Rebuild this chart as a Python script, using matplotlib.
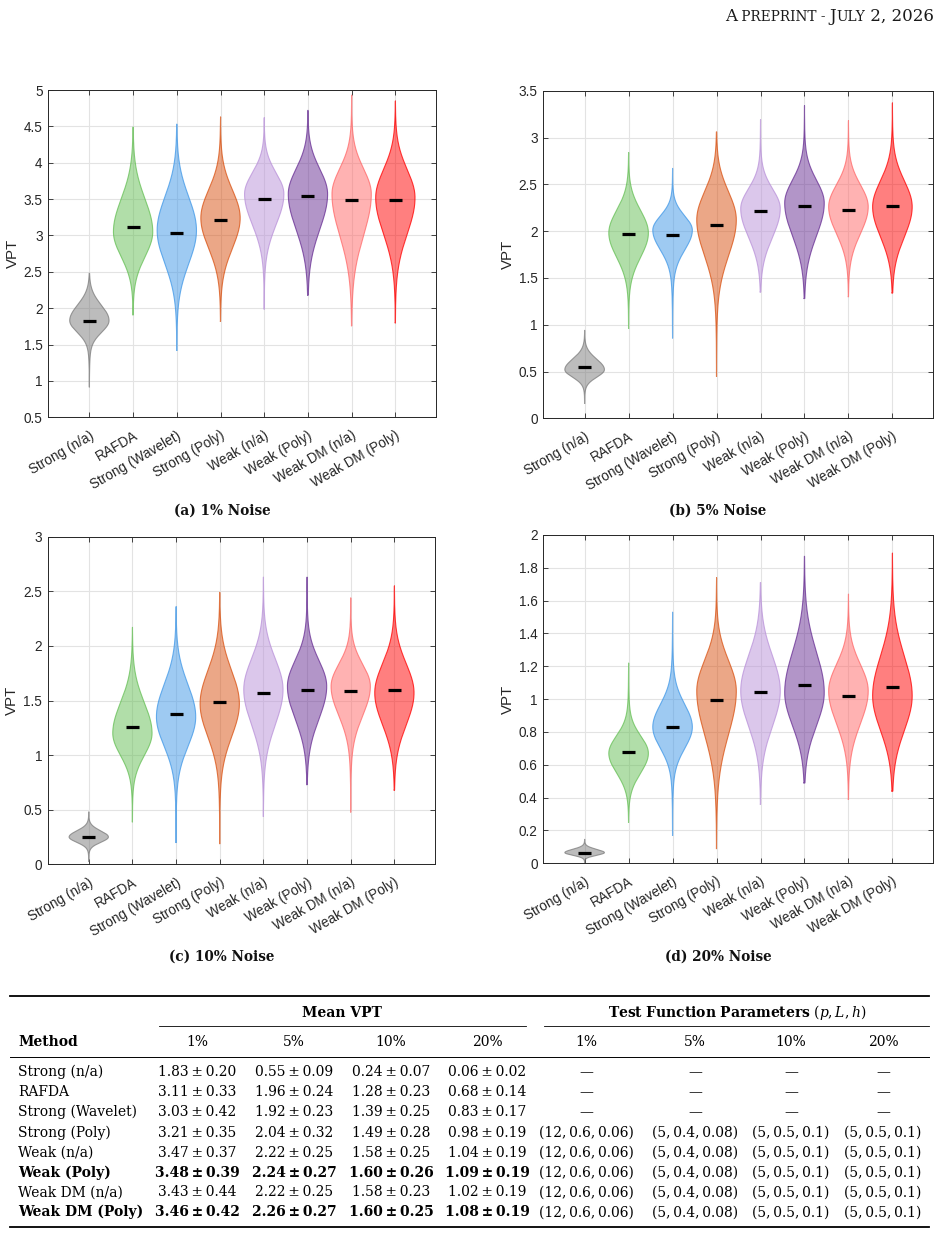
import numpy as np
import matplotlib
matplotlib.use("Agg")
import matplotlib.pyplot as plt
from matplotlib.lines import Line2D
from matplotlib.transforms import ScaledTranslation

W, H = 943, 1234

# ---------------- data ----------------
methods = ["Strong (n/a)", "RAFDA", "Strong (Wavelet)", "Strong (Poly)",
           "Weak (n/a)", "Weak (Poly)", "Weak DM (n/a)", "Weak DM (Poly)"]
noise_levels = ["1%", "5%", "10%", "20%"]
captions = ["(a) 1% Noise", "(b) 5% Noise", "(c) 10% Noise", "(d) 20% Noise"]

# violin summaries: marker value, widest point,
# upper / lower half-width levels, lowest and highest sample
center_a = [1.82, 3.12, 3.04, 3.21, 3.50, 3.54, 3.49, 3.49]
mode_a = [1.83, 3.05, 3.07, 3.24, 3.57, 3.57, 3.57, 3.52]
halfhi_a = [2.10, 3.62, 3.65, 3.72, 3.93, 4.00, 4.00, 4.00]
halflo_a = [1.63, 2.62, 2.50, 2.72, 3.05, 2.95, 2.85, 2.90]
min_a = [0.92, 1.91, 1.42, 1.82, 1.99, 2.18, 1.76, 1.80]
max_a = [2.48, 4.49, 4.53, 4.63, 4.62, 4.72, 4.93, 4.85]

center_b = [0.545, 1.966, 1.962, 2.069, 2.215, 2.265, 2.229, 2.272]
mode_b = [0.52, 1.98, 2.01, 2.12, 2.24, 2.30, 2.26, 2.26]
halfhi_b = [0.66, 2.28, 2.20, 2.50, 2.50, 2.60, 2.55, 2.60]
halflo_b = [0.42, 1.66, 1.75, 1.65, 1.85, 1.85, 1.90, 1.85]
min_b = [0.16, 0.96, 0.86, 0.45, 1.35, 1.28, 1.30, 1.34]
max_b = [0.94, 2.84, 2.67, 3.06, 3.19, 3.34, 3.18, 3.37]

center_c = [0.248, 1.255, 1.377, 1.483, 1.572, 1.596, 1.584, 1.596]
mode_c = [0.25, 1.20, 1.35, 1.47, 1.60, 1.63, 1.63, 1.57]
halfhi_c = [0.32, 1.55, 1.72, 1.85, 1.95, 1.92, 1.88, 1.90]
halflo_c = [0.19, 0.95, 1.02, 1.10, 1.20, 1.25, 1.30, 1.20]
min_c = [0.03, 0.39, 0.20, 0.19, 0.44, 0.73, 0.48, 0.68]
max_c = [0.48, 2.17, 2.36, 2.49, 2.63, 2.63, 2.44, 2.55]

center_d = [0.065, 0.676, 0.830, 0.995, 1.042, 1.084, 1.021, 1.074]
mode_d = [0.065, 0.67, 0.83, 1.05, 1.05, 1.04, 1.05, 1.02]
halfhi_d = [0.09, 0.80, 1.00, 1.28, 1.32, 1.35, 1.25, 1.32]
halflo_d = [0.045, 0.52, 0.67, 0.72, 0.78, 0.78, 0.80, 0.75]
min_d = [0.004, 0.25, 0.17, 0.09, 0.36, 0.49, 0.39, 0.44]
max_d = [0.146, 1.22, 1.53, 1.74, 1.71, 1.87, 1.64, 1.89]

ylims = [(0.5, 5.0), (0.0, 3.5), (0.0, 3.0), (0.0, 2.0)]
ysteps = [0.5, 0.5, 0.5, 0.2]

colors = ["#7b7b7b", "#65bf55", "#3f97e7", "#d95111",
          "#b991d9", "#672d93", "#ff6767", "#ff0000"]

# table
mean_vpt = [
    ["1.83", "0.20", "0.55", "0.09", "0.24", "0.07", "0.06", "0.02"],
    ["3.11", "0.33", "1.96", "0.24", "1.28", "0.23", "0.68", "0.14"],
    ["3.03", "0.42", "1.92", "0.23", "1.39", "0.25", "0.83", "0.17"],
    ["3.21", "0.35", "2.04", "0.32", "1.49", "0.28", "0.98", "0.19"],
    ["3.47", "0.37", "2.22", "0.25", "1.58", "0.25", "1.04", "0.19"],
    ["3.48", "0.39", "2.24", "0.27", "1.60", "0.26", "1.09", "0.19"],
    ["3.43", "0.44", "2.22", "0.25", "1.58", "0.23", "1.02", "0.19"],
    ["3.46", "0.42", "2.26", "0.27", "1.60", "0.25", "1.08", "0.19"],
]
params_row = ["(12, 0.6, 0.06)", "(5, 0.4, 0.08)", "(5, 0.5, 0.1)", "(5, 0.5, 0.1)"]
has_params = [False, False, False, True, True, True, True, True]
bold_rows = [False, False, False, False, False, True, False, True]

# ---------------- figure ----------------
fig = plt.figure(figsize=(W / 100, H / 100), dpi=100)


def fx(px):
    return px / W


def fy(py):
    return 1 - py / H


axes_px = [(48.3, 90.0, 436.0, 417.3), (543.3, 90.7, 933.3, 418.3),
           (47.7, 536.7, 435.0, 864.3), (543.3, 535.0, 933.3, 863.3)]
caption_px = [(222, 511), (718, 511), (222, 957), (718, 957)]

panels = [
    (center_a, mode_a, halfhi_a, halflo_a, min_a, max_a),
    (center_b, mode_b, halfhi_b, halflo_b, min_b, max_b),
    (center_c, mode_c, halfhi_c, halflo_c, min_c, max_c),
    (center_d, mode_d, halfhi_d, halflo_d, min_d, max_d),
]

TXT = "#262626"
SANS = ["Liberation Sans", "DejaVu Sans"]


def violin_profile(y, mode, hh, hl, lo, hi):
    d = y - mode
    s = np.where(d >= 0, (hh - mode) / 1.27, (mode - hl) / 1.27)
    ts = np.where(d >= 0, (hi - mode) / 3.0, (mode - lo) / 3.0)
    w = 0.88 * np.exp(-0.5 * (d / s) ** 2) + 0.12 * np.exp(-0.5 * (d / ts) ** 2)
    return w / w.max()


positions = np.arange(1, len(methods) + 1)

for k, (l, t, r, b) in enumerate(axes_px):
    ax = fig.add_axes([fx(l), fy(b), fx(r) - fx(l), (b - t) / H])
    cen, mod, hh, hl, mn, mx = panels[k]
    for i, xpos in enumerate(positions):
        y = np.linspace(mn[i], mx[i], 400)
        w = 0.45 * violin_profile(y, mod[i], hh[i], hl[i], mn[i], mx[i])
        ax.fill_betweenx(y, xpos - w, xpos + w, facecolor=colors[i], alpha=0.5,
                         edgecolor="none", zorder=2)
        ax.plot(np.r_[xpos - w, (xpos + w)[::-1], xpos - w[0]],
                np.r_[y, y[::-1], y[0]], color=colors[i], lw=0.8, alpha=0.75, zorder=3)
        ax.plot([xpos - 0.15, xpos + 0.15], [cen[i], cen[i]], color="black", lw=2.3,
                solid_capstyle="butt", zorder=4)
    ax.set_xlim(0.06, 8.93)
    ax.set_ylim(*ylims[k])
    yt = np.arange(ylims[k][0], ylims[k][1] + 1e-9, ysteps[k])
    ax.set_yticks(yt)
    ax.set_yticklabels(["{:g}".format(round(v, 2)) for v in yt])
    ax.set_xticks(positions)
    ax.set_xticklabels(methods, rotation=30, ha="right", va="top",
                       rotation_mode="anchor")
    for lab in ax.get_xticklabels():
        lab.set_transform(lab.get_transform() + ScaledTranslation(7 / 100, 0, fig.dpi_scale_trans))
    ax.tick_params(axis="both", direction="in", length=3.5, width=0.6, color=TXT,
                   labelcolor=TXT, labelsize=9.8, top=True, right=True)
    ax.tick_params(axis="x", pad=8)
    ax.tick_params(axis="y", pad=4)
    for lab in ax.get_xticklabels() + ax.get_yticklabels():
        lab.set_family(SANS)
    ax.grid(True, color="#e3e3e3", lw=0.8, zorder=0)
    ax.set_axisbelow(True)
    for sp in ax.spines.values():
        sp.set_color(TXT)
        sp.set_linewidth(0.7)
    ax.set_ylabel("VPT", fontsize=10.8, color=TXT, family=SANS, labelpad=3)
    cx, cy = caption_px[k]
    fig.text(fx(cx), fy(cy), captions[k], ha="center", va="center",
             fontsize=9.8, weight="bold", family="DejaVu Serif", color="#111111")

# ---------------- running header (small caps) ----------------
renderer = fig.canvas.get_renderer()
pieces = [("A", 12), (" PREPRINT - ", 9.8), ("J", 12), ("ULY", 9.8), (" 2, 2026", 12)]
xcur = 934
for txt, sz in reversed(pieces):
    tt = fig.text(fx(xcur), fy(21), txt, ha="right", va="baseline", fontsize=sz,
                  family="DejaVu Serif", color="#1a1a1a")
    xcur -= tt.get_window_extent(renderer).width

# ---------------- table ----------------
SERIF = "DejaVu Serif"
TFS = 10


def hline(x0, x1, y, lw):
    fig.add_artist(Line2D([fx(x0), fx(x1)], [fy(y), fy(y)], transform=fig.transFigure,
                          color="black", lw=lw))


hline(10, 929, 996, 1.3)
hline(159, 526, 1025.5, 0.6)
hline(544, 929, 1025.5, 0.6)
hline(10, 929, 1056.5, 0.7)
hline(10, 929, 1226.5, 1.3)

fig.text(fx(342), fy(1013), "Mean VPT", ha="center", va="center", fontsize=TFS,
         weight="bold", family=SERIF)
fig.text(fx(737), fy(1013), r"$\mathbf{Test\ Function\ Parameters}\ (p,L,h)$",
         ha="center", va="center", fontsize=TFS, math_fontfamily="dejavuserif")
fig.text(fx(18), fy(1041.5), "Method", ha="left", va="center", fontsize=TFS,
         weight="bold", family=SERIF)

mean_cols = [197, 294, 391, 487]
param_cols = [586, 695, 791, 883]
for j in range(4):
    fig.text(fx(mean_cols[j]), fy(1041.5), noise_levels[j], ha="center", va="center",
             fontsize=TFS, family=SERIF)
    fig.text(fx(param_cols[j]), fy(1041.5), noise_levels[j], ha="center", va="center",
             fontsize=TFS, family=SERIF)

row_y = [1071.7, 1091.7, 1111.7, 1132.7, 1152.7, 1172.7, 1192.3, 1212.3]
for i, m in enumerate(methods):
    wt = "bold" if bold_rows[i] else "normal"
    fig.text(fx(18), fy(row_y[i]), m, ha="left", va="center", fontsize=TFS,
             weight=wt, family=SERIF)
    for j in range(4):
        s = mean_vpt[i][2 * j] + "\u2009\u00b1\u2009" + mean_vpt[i][2 * j + 1]
        fig.text(fx(mean_cols[j]), fy(row_y[i]), s, ha="center", va="center",
                 fontsize=TFS, weight=wt, family=SERIF)
        ptxt = params_row[j].replace(", ", ",\u2009") if has_params[i] else "\u2014"
        fig.text(fx(param_cols[j]), fy(row_y[i]), ptxt, ha="center", va="center",
                 fontsize=TFS, family=SERIF)

fig.savefig("out.png", dpi=100)
